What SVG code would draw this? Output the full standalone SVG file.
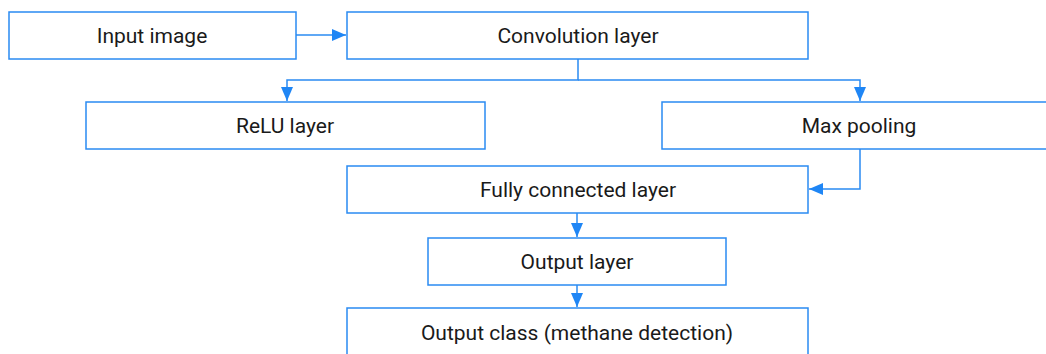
<svg xmlns="http://www.w3.org/2000/svg" width="1046" height="354" viewBox="0 0 1046 354">
<style>
.box{fill:#fff;stroke:#2a8bf2;stroke-width:1.5}
.lbl{font-family:Roboto,"Liberation Sans",sans-serif;font-size:21px;font-weight:400;fill:#1a1a1a;text-anchor:middle;dominant-baseline:central}
.con{fill:none;stroke:#2a8bf2;stroke-width:1.5}
</style>
<defs>
<marker id="ah" markerUnits="userSpaceOnUse" markerWidth="14" markerHeight="12" refX="14" refY="6" orient="auto">
<path d="M0,0 L14,6 L0,12 Z" fill="#1f86f5"/>
</marker>
</defs>
<rect width="1046" height="354" fill="#fff"/>
<g id="n-input"><rect class="box" x="9" y="12" width="287" height="47"/><text class="lbl" x="152" y="36">Input image</text></g>
<g id="n-conv"><rect class="box" x="347" y="12" width="461" height="47"/><text class="lbl" x="578" y="36">Convolution layer</text></g>
<g id="n-relu"><rect class="box" x="86" y="102" width="399" height="47"/><text class="lbl" x="285" y="126">ReLU layer</text></g>
<g id="n-maxpool"><rect class="box" x="662" y="102" width="400" height="47"/><text class="lbl" x="859" y="126">Max pooling</text></g>
<g id="n-fc"><rect class="box" x="347" y="166" width="461" height="47"/><text class="lbl" x="578" y="190">Fully connected layer</text></g>
<g id="n-out"><rect class="box" x="428" y="238" width="298" height="47"/><text class="lbl" x="577" y="262">Output layer</text></g>
<g id="n-class"><rect class="box" x="347" y="308" width="461" height="50"/><text class="lbl" x="577" y="333">Output class (methane detection)</text></g>
<g id="connectors">
<path class="con" d="M296,35 H346" marker-end="url(#ah)"/>
<path class="con" d="M578,59 V80 H287 V101" marker-end="url(#ah)"/>
<path class="con" d="M578,80 H860 V101" marker-end="url(#ah)"/>
<path class="con" d="M860,149 V189 H809" marker-end="url(#ah)"/>
<path class="con" d="M577,213 V237" marker-end="url(#ah)"/>
<path class="con" d="M577,285 V307" marker-end="url(#ah)"/>
</g>
</svg>
